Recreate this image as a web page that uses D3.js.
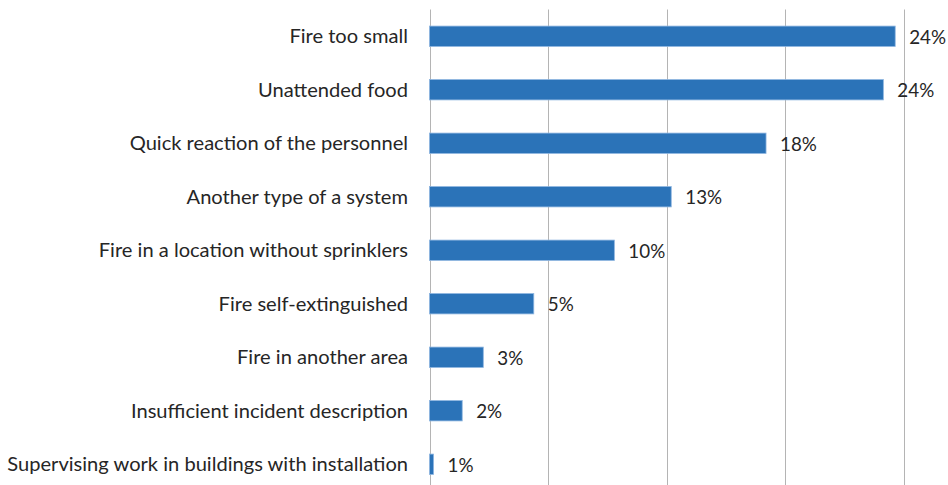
<!DOCTYPE html>
<html>
<head>
<meta charset="utf-8">
<script src="https://d3js.org/d3.v7.min.js"></script>
<style>
  body { margin: 0; background: #fff; }
  text { font-family: Lato, "Open Sans", sans-serif; fill: #262626; }
</style>
</head>
<body>
<svg id="chart"></svg>
<script>
// bar lengths (count scale, gridlines every 50)
let categories = [
  'Fire too small',
  'Unattended food',
  'Quick reaction of the personnel',
  'Another type of a system',
  'Fire in a location without sprinklers',
  'Fire self-extinguished',
  'Fire in another area',
  'Insufficient incident description',
  'Supervising work in buildings with installation'
]
let values = [196.5, 191.5, 142, 102, 78, 44, 22.7, 13.8, 1.7]
let valueLabels = ['24%', '24%', '18%', '13%', '10%', '5%', '3%', '2%', '1%']
let gridTicks = [0, 50, 100, 150, 200]

let width = 948, height = 485
let svg = d3.select('#chart')
            .attr('width', width)
            .attr('height', height)

let x = d3.scaleLinear()
          .domain([0, 200])
          .range([429.5, 903.5])

let y = d3.scaleBand()
          .domain(categories)
          .range([9.5, 491])
          .paddingInner(0.62)
          .paddingOuter(0.31)

// gridlines
svg.selectAll('.grid')
   .data(gridTicks)
   .enter()
   .append('line')
   .classed('grid', true)
   .attr('x1', d => Math.round(x(d)) + 0.5)
   .attr('x2', d => Math.round(x(d)) + 0.5)
   .attr('y1', 9.5)
   .attr('y2', height)
   .attr('stroke', '#b4b4b4')
   .attr('stroke-width', 1)

let rows = categories.map((c, i) => ({cat: c, val: values[i], lab: valueLabels[i]}))

svg.selectAll('.bar')
   .data(rows)
   .enter()
   .append('rect')
   .classed('bar', true)
   .attr('x', x(0))
   .attr('y', d => y(d.cat))
   .attr('width', d => x(d.val) - x(0))
   .attr('height', y.bandwidth())
   .attr('fill', '#2B73B8')
   .attr('stroke', '#8db5e0')
   .attr('stroke-width', 0.8)

svg.selectAll('.cat')
   .data(rows)
   .enter()
   .append('text')
   .classed('cat', true)
   .attr('x', 408)
   .attr('y', d => y(d.cat) + y.bandwidth() / 2)
   .attr('dy', '0.36em')
   .attr('text-anchor', 'end')
   .style('font-size', '20.1px')
   .text(d => d.cat)

svg.selectAll('.val')
   .data(rows)
   .enter()
   .append('text')
   .classed('val', true)
   .attr('x', d => x(d.val) + 14)
   .attr('y', d => y(d.cat) + y.bandwidth() / 2)
   .attr('dy', '0.4em')
   .style('font-size', '18.8px')
   .text(d => d.lab)
</script>
</body>
</html>
